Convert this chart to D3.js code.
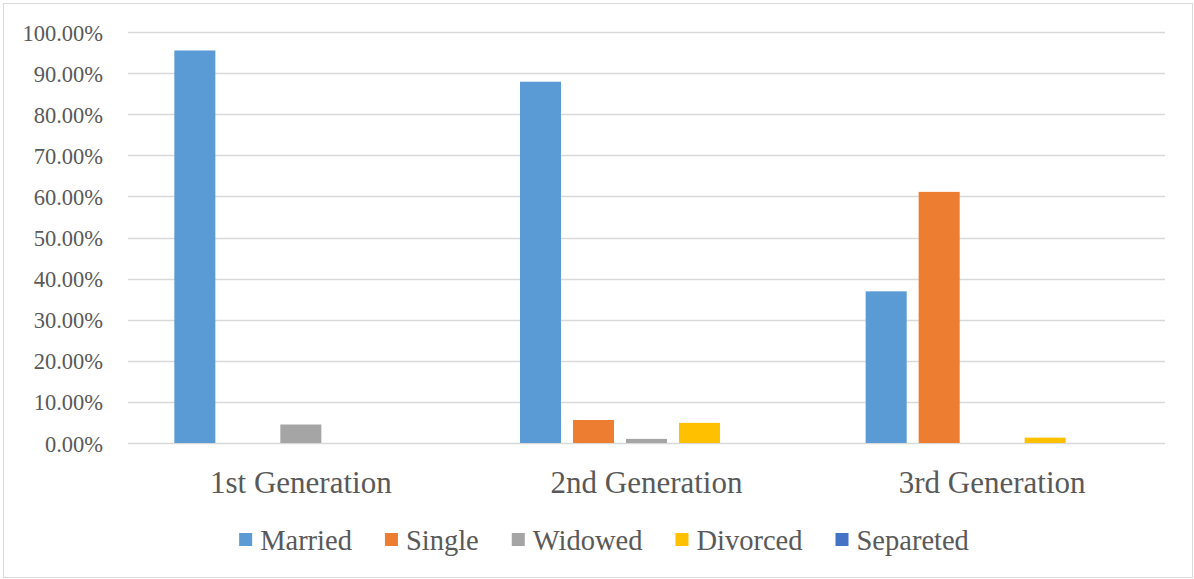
<!DOCTYPE html>
<html>
<head>
<meta charset="utf-8">
<script src="https://cdn.jsdelivr.net/npm/d3@7"></script>
<style>
  html, body { margin: 0; padding: 0; background: #fff; }
  svg { display: block; }
  text { font-family: "Liberation Serif", "Times New Roman", serif; fill: #595959; }
</style>
</head>
<body>
<svg id="chart" width="1194" height="579"></svg>
<script>
// Marital status by generation (shares of each generation)
const generations = ["1st Generation", "2nd Generation", "3rd Generation"];
const statuses = ["Married", "Single", "Widowed", "Divorced", "Separeted"];
const colors = ["#5B9BD5", "#ED7D31", "#A5A5A5", "#FFC000", "#4472C4"];

const married   = [0.955, 0.879, 0.369];
const single    = [0.000, 0.056, 0.611];
const widowed   = [0.045, 0.010, 0.000];
const divorced  = [0.000, 0.049, 0.013];
const separated = [0.000, 0.000, 0.000];

const yTicks = [0, 0.1, 0.2, 0.3, 0.4, 0.5, 0.6, 0.7, 0.8, 0.9, 1.0];

const seriesValues = [married, single, widowed, divorced, separated];

const svg = d3.select("#chart");

// chart frame
svg.append("rect")
  .attr("x", 3.5).attr("y", 3.5)
  .attr("width", 1189).attr("height", 574)
  .attr("fill", "#fff")
  .attr("stroke", "#d9d9d9")
  .attr("stroke-width", 1);

const plot = { left: 128, right: 1165, top: 32, bottom: 443 };

const x = d3.scaleBand()
  .domain(generations)
  .range([plot.left, plot.right])
  .paddingInner(0).paddingOuter(0);

const xs = d3.scaleBand()
  .domain(statuses)
  .range([0, x.bandwidth()])
  .paddingInner(0.226)
  .paddingOuter(0.874);

const y = d3.scaleLinear().domain([0, 1]).range([plot.bottom, plot.top]);

// gridlines
svg.append("g")
  .selectAll("line")
  .data(yTicks)
  .join("line")
  .attr("x1", plot.left).attr("x2", plot.right)
  .attr("y1", d => Math.round(y(d)) + 0.5)
  .attr("y2", d => Math.round(y(d)) + 0.5)
  .attr("stroke", "#d9d9d9")
  .attr("stroke-width", 1.5);

// y axis labels
const yAxis = d3.axisLeft(y)
  .tickValues(yTicks)
  .tickFormat(d3.format(".2%"))
  .tickSize(0)
  .tickPadding(25);

const gy = svg.append("g")
  .attr("transform", `translate(${plot.left},0)`)
  .call(yAxis);
gy.select(".domain").remove();
gy.selectAll("text")
  .attr("font-size", "22.5px")
  .attr("fill", "#595959")
  .attr("font-family", "'Liberation Serif', 'Times New Roman', serif")
  .attr("dy", "8px");

// bars
const barData = [];
generations.forEach((g, gi) => {
  statuses.forEach((s, si) => {
    barData.push({ gen: g, status: s, value: seriesValues[si][gi], color: colors[si] });
  });
});

svg.append("g")
  .selectAll("rect")
  .data(barData.filter(d => d.value > 0))
  .join("rect")
  .attr("x", d => x(d.gen) + xs(d.status))
  .attr("y", d => y(d.value))
  .attr("width", xs.bandwidth())
  .attr("height", d => y(0) - y(d.value))
  .attr("fill", d => d.color);

// category axis labels
const xAxis = d3.axisBottom(x).tickSize(0).tickPadding(0);
const gx = svg.append("g")
  .attr("transform", `translate(0,${plot.bottom})`)
  .call(xAxis);
gx.select(".domain").remove();
gx.selectAll("text")
  .attr("font-size", "31px")
  .attr("fill", "#595959")
  .attr("font-family", "'Liberation Serif', 'Times New Roman', serif")
  .attr("dy", null)
  .attr("y", 50);

// legend
const legendFont = 28.5;
const legend = svg.append("g");
let cursor = 0;
const items = statuses.map((s, i) => {
  const g = legend.append("g");
  g.append("rect")
    .attr("x", 0).attr("y", -17)
    .attr("width", 13).attr("height", 13)
    .attr("fill", colors[i]);
  const t = g.append("text")
    .attr("x", 21).attr("y", 0)
    .attr("font-size", legendFont + "px")
    .text(s);
  const w = 21 + t.node().getComputedTextLength();
  g.attr("transform", `translate(${cursor},0)`);
  cursor += w + 33;
  return g;
});
const legendWidth = cursor - 33;
legend.attr("transform", `translate(${604 - legendWidth / 2},550)`);
</script>
</body>
</html>
